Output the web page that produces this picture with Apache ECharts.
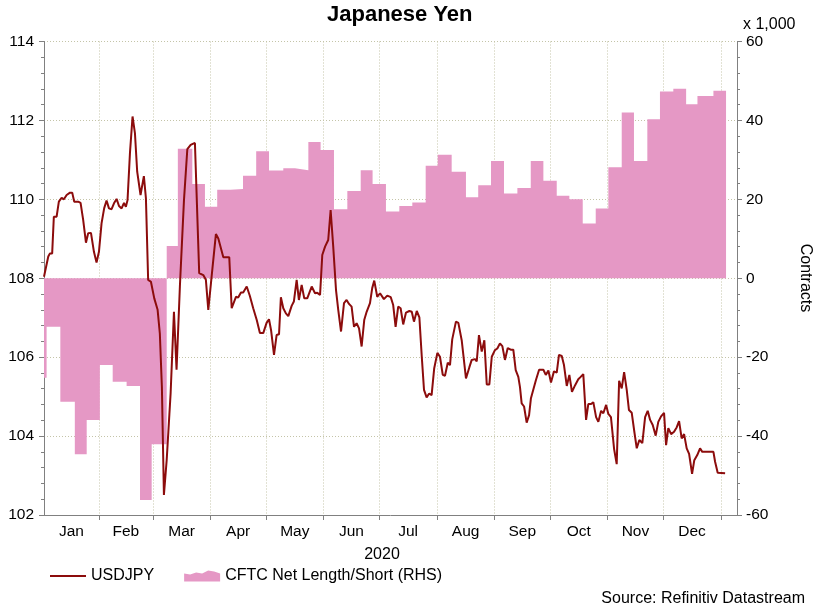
<!DOCTYPE html>
<html>
<head>
<meta charset="utf-8">
<script src="https://cdn.jsdelivr.net/npm/echarts@6/dist/echarts.min.js"></script>
<style>
html,body{margin:0;padding:0;background:#fff;}
#chart{width:814px;height:607px;}
</style>
</head>
<body>
<div id="chart"></div>
<script>
// days counted from 1 Jan 2020
var monthNames = ['Jan','Feb','Mar','Apr','May','Jun','Jul','Aug','Sep','Oct','Nov','Dec'];
var monthStarts = [31,60,91,121,152,182,213,244,274,305,335,366];
var xMin = 1.4, xMax = 374.7;

var fxDay = [1.4,3.7,4.6,5.8,6.7,8.2,9.4,10.9,12.1,13.6,15.4,16.6,17.7,19.8,21.1,22.5,24.0,25.2,26.7,28.3,
  29.7,31.0,32.4,33.8,35.1,36.4,37.8,39.1,40.5,41.8,43.2,44.5,45.5,46.4,47.7,49.1,50.4,51.6,53.4,55.2,
  56.3,57.5,59.0,60.8,62.6,63.8,64.9,66.0,67.5,69.6,71.4,72.8,74.6,76.8,78.6,80.4,82.7,85.0,87.2,88.6,
  89.9,91.7,94.0,95.3,98.0,101.2,102.5,104.8,106.0,107.5,108.7,110.6,112.3,114.1,116.0,117.7,119.5,121.3,122.6,123.7,
  125.3,126.7,128.0,129.0,130.3,131.7,133.0,134.8,136.0,137.5,138.7,140.2,141.6,143.2,145.6,147.4,148.6,150.1,151.3,152.8,
  154.5,155.8,157.2,158.7,159.9,161.4,163.0,164.4,165.7,167.1,168.4,169.8,171.1,172.5,173.9,175.2,177.0,178.2,179.3,180.9,
  182.4,184.5,186.3,188.2,189.5,190.8,192.2,193.5,194.9,196.4,198.2,199.5,200.7,202.2,203.6,204.9,206.1,207.5,208.9,210.2,
  211.6,213.3,214.7,216.2,217.4,218.9,220.1,221.3,223.3,224.6,226.4,228.7,230.5,231.8,233.6,234.5,235.7,237.2,238.6,239.9,
  241.3,242.6,244.3,245.6,247.0,248.3,249.7,251.2,252.8,254.2,255.5,256.9,257.8,258.7,260.0,261.4,262.7,263.7,265.4,266.4,
  268.1,270.4,271.7,273.1,274.5,276.1,277.6,278.8,280.3,281.5,283.0,284.4,285.8,287.5,289.2,290.5,291.9,293.4,294.6,296.1,
  297.3,298.8,300.0,301.5,302.7,304.2,305.4,306.8,308.5,309.9,311.2,312.6,313.9,315.3,316.5,318.0,319.4,320.7,322.1,323.7,
  325.2,326.6,327.9,329.3,330.9,332.3,333.8,335.4,336.5,337.7,339.2,340.8,342.2,343.5,344.9,346.2,347.6,348.9,350.5,351.7,
  353.3,354.8,356.0,362.0,362.9,364.3,368.3];
var usdjpy = [108.04,108.55,108.63,108.63,109.56,109.56,109.94,110.04,110.00,110.11,110.17,110.17,109.94,109.94,109.91,109.48,108.90,109.14,109.15,108.67,
  108.40,108.67,109.39,109.77,109.97,109.77,109.75,109.90,110.01,109.83,109.77,109.91,109.81,109.98,111.17,112.10,111.67,110.70,110.11,110.59,
  110.03,107.96,107.91,107.49,107.20,106.60,105.25,102.51,103.40,105.08,107.15,105.68,107.79,109.98,111.27,111.38,111.43,108.13,108.08,107.96,
  107.20,108.05,109.12,109.01,108.53,108.53,107.24,107.53,107.51,107.64,107.64,107.79,107.55,107.24,106.94,106.61,106.61,106.87,106.96,106.69,
  106.06,106.56,106.58,107.52,107.24,107.11,107.04,107.30,107.41,107.96,107.45,107.83,107.49,107.49,107.79,107.62,107.63,107.58,108.59,108.80,
  108.97,109.73,108.80,107.70,107.20,106.65,107.37,107.45,107.35,107.28,106.77,106.86,106.73,106.27,106.94,107.15,107.37,107.75,107.94,107.53,
  107.62,107.47,107.56,107.52,107.32,106.77,107.28,107.24,106.83,107.13,107.17,107.15,106.90,107.17,107.01,106.01,105.17,104.98,105.08,105.04,
  105.72,106.11,106.01,105.55,105.53,105.86,105.80,106.45,106.90,106.87,106.43,105.46,105.74,105.93,105.95,105.89,106.56,106.14,106.43,105.31,
  105.31,106.01,106.18,106.22,106.35,106.28,105.93,106.23,106.19,106.19,105.67,105.50,105.24,104.83,104.75,104.34,104.53,104.96,105.25,105.42,
  105.68,105.68,105.55,105.66,105.36,105.64,105.61,106.06,106.03,105.80,105.27,105.55,105.12,105.29,105.44,105.50,105.57,104.41,104.81,104.81,
  104.86,104.48,104.36,104.64,104.58,104.79,104.56,104.48,103.67,103.29,105.40,105.21,105.62,105.17,104.66,104.59,104.11,103.69,103.90,103.82,
  104.48,104.64,104.41,104.28,104.01,104.36,104.50,104.59,103.77,104.20,104.05,104.11,104.22,104.38,103.94,104.05,103.69,103.55,103.04,103.39,
  103.52,103.69,103.60,103.60,103.35,103.07,103.06];

// CFTC weekly net position (thousand contracts), value holds from that day on
var cftcDay = [-1,2.8,10.2,18.0,24.4,31.5,38.4,45.9,53.1,59.4,67.5,73.5,81.3,88.1,94.7,101.9,108.6,115.7,122.6,130.3,
  136.6,143.8,150.4,157.6,164.8,172.0,178.4,185.6,192.8,199.8,207.0,213.5,221.0,228.7,235.3,242.2,249.2,256.4,263.6,270.4,
  277.6,284.4,291.6,298.6,305.4,312.6,319.2,326.4,333.2,340.4,347.3,353.4,362.0,368.8];
var cftcNet = [-25.2,-12.3,-31.3,-44.6,-35.9,-22.0,-26.2,-27.3,-56.2,-42.1,8.2,32.8,23.9,18.1,22.4,22.6,26.0,32.2,27.3,27.9,
  27.4,34.5,32.5,17.5,22.1,27.4,23.9,16.9,18.3,19.2,28.5,31.3,27.0,20.5,23.6,29.7,21.5,22.9,29.7,24.7,
  20.9,20.0,13.9,17.7,28.1,42.0,29.7,40.3,47.3,48.0,44.1,46.2,47.5,47.5];

var font = "'Liberation Sans', Arial, sans-serif";
var lineColor = '#8c0c0c';
var areaColor = '#e598c5';
var gridLine = {show: true, lineStyle: {color: '#c4c4a8', type: [1, 2], width: 1}};

// month labels sit in the middle of each month
var labelDays = [];
for (var i = 0; i < monthNames.length; i++) {
  var a = i == 0 ? xMin : monthStarts[i - 1];
  labelDays.push((a + monthStarts[i]) / 2);
}

var fxData = fxDay.map(function (d, i) { return [d, usdjpy[i]]; });
var cftcData = cftcDay.map(function (d, i) { return [d, cftcNet[i]]; });

var chart = echarts.init(document.getElementById('chart'));
var option = {
  backgroundColor: '#ffffff',
  animation: false,
  textStyle: {fontFamily: font},
  title: {
    text: 'Japanese Yen',
    left: 327, top: 4, padding: 0,
    textStyle: {fontSize: 22, fontWeight: 'bold', color: '#000', fontFamily: font}
  },
  grid: {left: 44, right: 77, top: 41.5, bottom: 92},
  legend: {
    left: 45, top: 563,
    itemWidth: 36, itemHeight: 14, itemGap: 30,
    textStyle: {fontSize: 16, color: '#000', fontFamily: font},
    data: [
      // thin line icon; the tiny corner strokes keep the box 36x14
      {name: 'USDJPY', icon: 'path://M0,0 L0.01,0 M0,6 L36,6 L36,8 L0,8 Z M36,14 L35.99,14'},
      {name: 'CFTC Net Length/Short (RHS)', icon: 'path://M0,14 L0,6 L6,7 L12,5 L18,6 L24,3 L30,4 L36,6 L36,14 Z'}
    ]
  },
  xAxis: {
    type: 'value', min: xMin, max: xMax,
    axisLine: {show: true, onZero: false, lineStyle: {color: '#808080'}},
    axisTick: {show: true, length: 5, customValues: monthStarts, lineStyle: {color: '#808080'}},
    axisLabel: {
      customValues: labelDays, margin: 9, fontSize: 15.5, color: '#000', fontFamily: font,
      formatter: function (v) {
        var best = 0;
        for (var k = 1; k < labelDays.length; k++) {
          if (Math.abs(labelDays[k] - v) < Math.abs(labelDays[best] - v)) best = k;
        }
        return monthNames[best];
      }
    },
    splitLine: gridLine
  },
  yAxis: [{
    type: 'value', min: 102, max: 114, interval: 2,
    axisLine: {show: true, onZero: false, lineStyle: {color: '#808080'}},
    axisTick: {show: true, length: 5, lineStyle: {color: '#808080'}},
    minorTick: {show: true, splitNumber: 5, length: 3, lineStyle: {color: '#808080'}},
    axisLabel: {margin: 10, fontSize: 15.5, color: '#000', fontFamily: font},
    splitLine: gridLine
  }, {
    type: 'value', position: 'right', min: -60, max: 60, interval: 20,
    axisLine: {show: true, onZero: false, lineStyle: {color: '#808080'}},
    axisTick: {show: true, length: 5, lineStyle: {color: '#808080'}},
    minorTick: {show: true, splitNumber: 5, length: 3, lineStyle: {color: '#808080'}},
    axisLabel: {margin: 9, fontSize: 15.5, color: '#000', fontFamily: font},
    splitLine: {show: false}
  }],
  graphic: [
    {type: 'text', left: 743, top: 17, style: {text: 'x 1,000', font: '16px ' + font, fill: '#000'}},
    {type: 'text', x: 805, y: 278, rotation: -Math.PI / 2,
      style: {text: 'Contracts', font: '16px ' + font, fill: '#000', textAlign: 'center', textVerticalAlign: 'middle'}},
    {type: 'text', x: 382, y: 555,
      style: {text: '2020', font: '16px ' + font, fill: '#000', textAlign: 'center', textVerticalAlign: 'middle'}},
    {type: 'text', x: 805, y: 599,
      style: {text: 'Source: Refinitiv Datastream', font: '16px ' + font, fill: '#000', textAlign: 'right', textVerticalAlign: 'middle'}}
  ],
  series: [{
    name: 'CFTC Net Length/Short (RHS)',
    type: 'line', yAxisIndex: 1, step: 'end',
    symbol: 'none', data: cftcData, z: 1,
    itemStyle: {color: areaColor},
    lineStyle: {width: 0, color: areaColor},
    areaStyle: {color: areaColor, opacity: 1}
  }, {
    name: 'USDJPY',
    type: 'line', yAxisIndex: 0,
    symbol: 'none', data: fxData, z: 3,
    itemStyle: {color: lineColor},
    lineStyle: {width: 2, color: lineColor}
  }]
};
chart.setOption(option);
</script>
</body>
</html>
